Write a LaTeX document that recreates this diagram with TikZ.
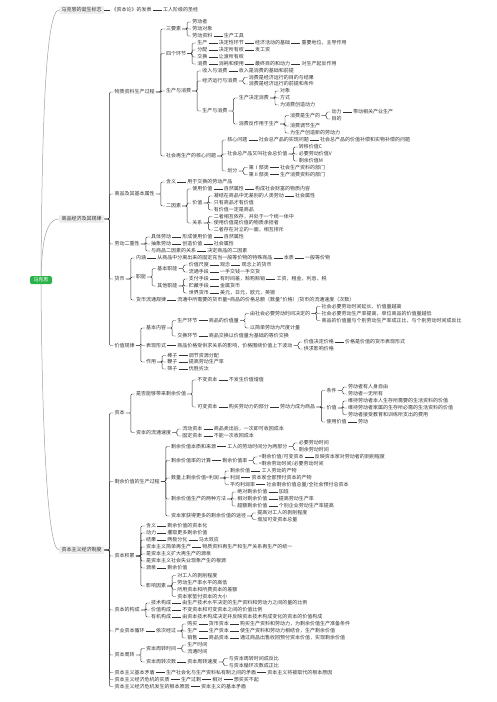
\documentclass[tikz,border=0pt]{standalone}
\usepackage{fontspec}
\newfontfamily\cjk{Noto Sans CJK SC}
\usetikzlibrary{calc,positioning}
\definecolor{lc}{HTML}{333333}
\definecolor{tc}{HTML}{333333}
\definecolor{cvc}{HTML}{A0A0A0}
\definecolor{rootg}{HTML}{2CB34A}
\definecolor{l1g}{HTML}{EEEEEE}
% bracket child: name, parent, y, text
\newcommand\nr[4]{\node[tx] (#1) at ($(#2.east |- 0,-#3)+(9,0)$) {#4};
  \draw[ln] (#2.east) -- ($(#2.east -| #1.west)+(-4,0)$) |- (#1.west);}
% chain child: name, previous, text
\newcommand\nx[3]{\node[tx,right=9pt of #2] (#1) {#3};
  \draw[ln] (#2.east) -- (#1.west);}
\begin{document}
\begin{tikzpicture}[x=1pt,y=1pt,
  tx/.style={anchor=west,inner xsep=1pt,inner ysep=0.5pt,font=\cjk\fontsize{5}{5.4}\selectfont,text=tc},
  l1/.style={tx,fill=l1g,rounded corners=1pt,inner xsep=2.5pt,inner ysep=1.6pt},
  rootn/.style={fill=rootg,text=white,rounded corners=1.5pt,minimum width=22pt,minimum height=8pt,inner sep=0.5pt,font=\cjk\fontsize{5}{5.5}\selectfont},
  ln/.style={draw=lc,line width=0.45pt,rounded corners=1.2pt},
  cv/.style={draw=cvc,line width=0.5pt}]
\useasboundingbox (0,0) rectangle (496,-702);

\node[rootn] (root) at (41,-280) {马克思};
\node[l1] (A) at (59,-10) {马克思的诞生标志};
\node[l1] (B) at (59,-219) {商品经济及其规律};
\node[l1] (C) at (59,-550) {资本主义经济制度};
\draw[cv] (root.north) .. controls (42,-120) and (46,-10) .. (A.west);
\draw[cv] (root.north) .. controls (42,-250) and (44,-219) .. (B.west);
\draw[cv] (root.south) .. controls (42,-420) and (47,-550) .. (C.west);

\node[tx,right=6pt of A] (A1) {《资本论》的发表};
\draw[ln] (A.east) -- (A1.west);
\nx{A2}{A1}{工人阶级的圣经}

% ---------- B ----------
\nr{B1}{B}{92}{物质资料生产过程}
\nr{B2}{B}{194}{商品及其基本属性}
\nr{B3}{B}{244}{劳动二重性}
\nr{B4}{B}{279}{货币}
\nr{B5}{B}{345.5}{价值规律}

\nr{B1a}{B1}{29}{三要素}
\nr{B1b}{B1}{53.5}{四个环节}
\nr{B1c}{B1}{91}{生产与消费}
\nr{B1d}{B1}{156}{社会再生产的核心问题}

\nr{B1a1}{B1a}{22}{劳动者}
\nr{B1a2}{B1a}{29}{劳动对象}
\nr{B1a3}{B1a}{36}{劳动资料}
\nx{B1a3a}{B1a3}{生产工具}

\nr{B1b1}{B1b}{43}{生产}
\nx{B1b1a}{B1b1}{决定性环节}
\nx{B1b1b}{B1b1a}{经济活动的基础}
\nx{B1b1c}{B1b1b}{重要地位，主导作用}
\nr{B1b2}{B1b}{50}{分配}
\nx{B1b2a}{B1b2}{决定所有权}
\nx{B1b2b}{B1b2a}{发工资}
\nr{B1b3}{B1b}{57}{交换}
\nx{B1b3a}{B1b3}{让渡所有权}
\nr{B1b4}{B1b}{64}{消费}
\nx{B1b4a}{B1b4}{消耗和使用}
\nx{B1b4b}{B1b4a}{最终目的和动力}
\nx{B1b4c}{B1b4b}{对生产起反作用}

\nr{B1c1}{B1c}{71}{收入与消费}
\nx{B1c1a}{B1c1}{收入是消费的基础和前提}
\nr{B1c2}{B1c}{81}{经济运行与消费}
\nr{B1c2a}{B1c2}{77.5}{消费是经济运行的目的与结果}
\nr{B1c2b}{B1c2}{84}{消费是经济运行的前提和条件}
\nr{B1c3}{B1c}{111}{生产与消费}
\nr{B1c3a}{B1c3}{98}{生产决定消费}
\nr{B1c3a1}{B1c3a}{91}{对象}
\nr{B1c3a2}{B1c3a}{98}{方式}
\nr{B1c3a3}{B1c3a}{105}{为消费创造动力}
\nr{B1c3b}{B1c3}{124}{消费反作用于生产}
\nr{B1c3b1}{B1c3b}{115.5}{消费是生产的}
\nr{B1c3b1a}{B1c3b1}{112}{动力}
\nx{B1c3b1ax}{B1c3b1a}{带动相关产业生产}
\nr{B1c3b1b}{B1c3b1}{119}{目的}
\nr{B1c3b2}{B1c3b}{126}{消费调节生产}
\nr{B1c3b3}{B1c3b}{133}{为生产创造新的劳动力}

\nr{B1d1}{B1d}{140}{核心问题}
\nx{B1d1a}{B1d1}{社会总产品的实现问题}
\nx{B1d1b}{B1d1a}{社会总产品的价值补偿和实物补偿的问题}
\nr{B1d2}{B1d}{154}{社会总产品又叫社会总价值}
\nr{B1d2a}{B1d2}{147}{转移价值C}
\nr{B1d2b}{B1d2}{154}{必要劳动价值V}
\nr{B1d2c}{B1d2}{161}{剩余价值M}
\nr{B1d3}{B1d}{171}{划分}
\nr{B1d3a}{B1d3}{167.5}{第Ⅰ部类}
\nx{B1d3ax}{B1d3a}{社会生产资料的部门}
\nr{B1d3b}{B1d3}{174.5}{第Ⅱ部类}
\nx{B1d3bx}{B1d3b}{生产消费资料的部门}

\nr{B2a}{B2}{182}{含义}
\nx{B2ax}{B2a}{用于交换的劳动产品}
\nr{B2b}{B2}{206}{二因素}
\nr{B2b1}{B2b}{189}{使用价值}
\nx{B2b1x}{B2b1}{自然属性}
\nx{B2b1y}{B2b1x}{构成社会财富的物质内容}
\nr{B2b2}{B2b}{203}{价值}
\nr{B2b2a}{B2b2}{196}{凝结在商品中无差别的人类劳动}
\nx{B2b2ax}{B2b2a}{社会属性}
\nr{B2b2b}{B2b2}{203}{只有商品才有价值}
\nr{B2b2c}{B2b2}{210}{有价值一定是商品}
\nr{B2b3}{B2b}{223}{关系}
\nr{B2b3a}{B2b3}{216.5}{二者相互依存，并处于一个统一体中}
\nr{B2b3b}{B2b3}{223}{使用价值是价值的物质承担者}
\nr{B2b3c}{B2b3}{230}{二者存在对立的一面，相互排斥}

\nr{B3a}{B3}{237}{具体劳动}
\nx{B3ax}{B3a}{形成使用价值}
\nx{B3ay}{B3ax}{自然属性}
\nr{B3b}{B3}{244}{抽象劳动}
\nx{B3bx}{B3b}{创造价值}
\nx{B3by}{B3bx}{社会属性}
\nr{B3c}{B3}{251}{与商品二因素的关系}
\nx{B3cx}{B3c}{决定商品的二因素}

\nr{B4a}{B4}{258}{内涵}
\nx{B4ax}{B4a}{从商品中分离出来的固定充当一般等价物的特殊商品}
\nx{B4ay}{B4ax}{本质}
\nx{B4az}{B4ay}{一般等价物}
\nr{B4b}{B4}{277}{职能}
\nr{B4b1}{B4b}{268.5}{基本职能}
\nr{B4b1a}{B4b1}{265}{价值尺度}
\nx{B4b1ax}{B4b1a}{观念}
\nx{B4b1ay}{B4b1ax}{观念上的货币}
\nr{B4b1b}{B4b1}{272}{流通手段}
\nx{B4b1bx}{B4b1b}{一手交钱一手交货}
\nr{B4b2}{B4b}{286}{其他职能}
\nr{B4b2a}{B4b2}{279}{支付手段}
\nx{B4b2ax}{B4b2a}{有时间差，赊购赊销}
\nx{B4b2ay}{B4b2ax}{工资，租金，利息，税}
\nr{B4b2b}{B4b2}{286}{贮藏手段}
\nx{B4b2bx}{B4b2b}{金属货币}
\nr{B4b2c}{B4b2}{293}{世界货币}
\nx{B4b2cx}{B4b2c}{美元，日元，欧元，英镑}
\nr{B4c}{B4}{300}{货币流通规律}
\nx{B4cx}{B4c}{流通中所需要的货币量=商品的价格总额（数量*价格）/货币的流通速度（次数）}

\nr{B5a}{B5}{328}{基本内容}
\nr{B5a1}{B5a}{320.5}{生产环节}
\nx{B5a1x}{B5a1}{商品的价值量}
\nr{B5a1x1}{B5a1x}{313.5}{由社会必要劳动时间决定的}
\nr{B5a1x1a}{B5a1x1}{306.5}{社会必要劳动时间延长，价值量越高}
\nr{B5a1x1b}{B5a1x1}{313.5}{社会必要劳动生产率提高，单位商品的价值量越低}
\nr{B5a1x1c}{B5a1x1}{320.5}{商品的价值量与个别劳动生产率成正比，与个别劳动时间成反比}
\nr{B5a1x2}{B5a1x}{328}{以简单劳动为尺度计量}
\nr{B5a2}{B5a}{336}{交换环节}
\nx{B5a2x}{B5a2}{商品交换以价值量为基础的等价交换}
\nr{B5b}{B5}{345.5}{表现形式}
\nx{B5bx}{B5b}{商品价格受供求关系的影响，价格围绕价值上下波动}
\nr{B5bx1}{B5bx}{342}{价值决定价格}
\nx{B5bx1x}{B5bx1}{价格是价值的货币表现形式}
\nr{B5bx2}{B5bx}{349}{供求影响价格}
\nr{B5c}{B5}{362}{作用}
\nr{B5c1}{B5c}{355.5}{棒子}
\nx{B5c1x}{B5c1}{调节资源分配}
\nr{B5c2}{B5c}{362}{鞭子}
\nx{B5c2x}{B5c2}{提高劳动生产率}
\nr{B5c3}{B5c}{369}{筛子}
\nx{B5c3x}{B5c3}{优胜劣汰}

% ---------- C ----------
\nr{C1}{C}{413}{资本}
\nr{C2}{C}{481.5}{剩余价值的生产过程}
\nr{C3}{C}{556}{资本积累}
\nr{C4}{C}{610}{资本的构成}
\nr{C5}{C}{631}{产业资本循环}
\nr{C6}{C}{655}{资本周转}
\nr{C7}{C}{672.5}{资本主义基本矛盾}
\nr{C8}{C}{679.5}{资本主义经济危机的实质}
\nr{C9}{C}{686.5}{资本主义经济危机发生的根本原因}

\nr{C1a}{C1}{394}{是否能够带来剩余价值}
\nr{C1a1}{C1a}{380}{不变资本}
\nx{C1a1x}{C1a1}{不发生价值增值}
\nr{C1a2}{C1a}{407}{可变资本}
\nx{C1a2x}{C1a2}{购买劳动力的部分}
\nx{C1a2y}{C1a2x}{劳动力成为商品}
\nr{C1a2y1}{C1a2y}{390.5}{条件}
\nr{C1a2y1a}{C1a2y1}{387}{劳动者有人身自由}
\nr{C1a2y1b}{C1a2y1}{394}{劳动者一无所有}
\nr{C1a2y2}{C1a2y}{408}{价值}
\nr{C1a2y2a}{C1a2y2}{401}{维持劳动者本人生存所需要的生活资料的价值}
\nr{C1a2y2b}{C1a2y2}{408}{维持劳动者家属的生存所必需的生活资料的价值}
\nr{C1a2y2c}{C1a2y2}{414.5}{劳动者接受教育和训练所支出的费用}
\nr{C1a2y3}{C1a2y}{422}{使用价值}
\nx{C1a2y3x}{C1a2y3}{劳动}
\nr{C1b}{C1}{432.5}{资本的流通速度}
\nr{C1b1}{C1b}{429}{流动资本}
\nx{C1b1x}{C1b1}{商品卖出后，一次即可收回成本}
\nr{C1b2}{C1b}{436}{固定资本}
\nx{C1b2x}{C1b2}{不能一次收回成本}

\nr{C2a}{C2}{446.5}{剩余价值本质和来源}
\nx{C2ax}{C2a}{工人的劳动时间分为两部分}
\nr{C2ax1}{C2ax}{443}{必要劳动时间}
\nr{C2ax2}{C2ax}{450}{剩余劳动时间}
\nr{C2b}{C2}{460.5}{剩余价值率的计算}
\nx{C2bx}{C2b}{剩余价值率}
\nr{C2bx1}{C2bx}{457}{=剩余价值/可变资本}
\nx{C2bx1x}{C2bx1}{反映资本家对劳动者的剥削程度}
\nr{C2bx2}{C2bx}{464}{=剩余劳动时间/必要劳动时间}
\nr{C2c}{C2}{478}{数量上剩余价值=利润}
\nr{C2c1}{C2c}{471}{剩余价值}
\nx{C2c1x}{C2c1}{工人劳动的产物}
\nr{C2c2}{C2c}{477.5}{利润}
\nx{C2c2x}{C2c2}{资本家全部预付资本的产物}
\nr{C2c3}{C2c}{484.5}{平均利润率}
\nx{C2c3x}{C2c3}{社会剩余价值总量/全社会预付总资本}
\nr{C2d}{C2}{499}{剩余价值生产的两种方法}
\nr{C2d1}{C2d}{492}{绝对剩余价值}
\nx{C2d1x}{C2d1}{加班}
\nr{C2d2}{C2d}{499}{相对剩余价值}
\nx{C2d2x}{C2d2}{提高劳动生产率}
\nr{C2d3}{C2d}{506}{超额剩余价值}
\nx{C2d3x}{C2d3}{个别企业劳动生产率提高}
\nr{C2e}{C2}{516}{资本家获得更多的剩余价值的途径}
\nr{C2e1}{C2e}{513}{提高对工人的剥削程度}
\nr{C2e2}{C2e}{519.5}{增加可变资本总量}

\nr{C3a}{C3}{526}{含义}
\nx{C3ax}{C3a}{剩余价值的资本化}
\nr{C3b}{C3}{533}{动力}
\nx{C3bx}{C3b}{攫取更多剩余价值}
\nr{C3c}{C3}{540}{结果}
\nx{C3cx}{C3c}{两极分化}
\nx{C3cy}{C3cx}{马太效应}
\nr{C3d}{C3}{547}{资本主义简单再生产}
\nx{C3dx}{C3d}{物质资料再生产和生产关系再生产的统一}
\nr{C3e}{C3}{554}{是资本主义扩大再生产的源泉}
\nr{C3f}{C3}{561}{是资本主义社会失业现象产生的根源}
\nr{C3g}{C3}{568}{源泉}
\nx{C3gx}{C3g}{剩余价值}
\nr{C3h}{C3}{586}{影响因素}
\nr{C3h1}{C3h}{575.5}{对工人的剥削程度}
\nr{C3h2}{C3h}{582.5}{劳动生产率水平的高低}
\nr{C3h3}{C3h}{589.5}{所用资本和所费资本的差额}
\nr{C3h4}{C3h}{596.5}{资本家垫付资本的大小}

\nr{C4a}{C4}{603}{技术构成}
\nx{C4ax}{C4a}{由生产技术水平决定的生产资料和劳动力之间的量的比例}
\nr{C4b}{C4}{610}{价值构成}
\nx{C4bx}{C4b}{不变资本和可变资本之间的价值比例}
\nr{C4c}{C4}{617}{有机构成}
\nx{C4cx}{C4c}{由资本技术构成决定并反映资本技术构成变化的资本的价值构成}

\nx{C5x}{C5}{依次经过}
\nr{C5a}{C5x}{624}{购买}
\nx{C5ax}{C5a}{货币资本}
\nx{C5ay}{C5ax}{购买生产资料和劳动力，为剩余价值生产准备条件}
\nr{C5b}{C5x}{631}{生产}
\nx{C5bx}{C5b}{生产资本}
\nx{C5by}{C5bx}{使生产资料和劳动力相结合，生产剩余价值}
\nr{C5c}{C5x}{638}{销售}
\nx{C5cx}{C5c}{商品资本}
\nx{C5cy}{C5cx}{通过商品出售收回预付资本价值，实现剩余价值}

\nr{C6a}{C6}{648.5}{资本周转时间}
\nr{C6a1}{C6a}{645}{生产时间}
\nr{C6a2}{C6a}{652}{流通时间}
\nr{C6b}{C6}{662}{资本周转次数}
\nx{C6bx}{C6b}{资本周转速度}
\nr{C6bx1}{C6bx}{658.5}{与资本周转时间成反比}
\nr{C6bx2}{C6bx}{665.5}{与资本循环次数成正比}

\nx{C7x}{C7}{生产社会化与生产资料私有制之间的矛盾}
\nx{C7y}{C7x}{资本主义将被取代的根本原因}
\nx{C8x}{C8}{生产过剩}
\nx{C8y}{C8x}{相对}
\nx{C8z}{C8y}{想买买不起}
\nx{C9x}{C9}{资本主义的基本矛盾}
\end{tikzpicture}
\end{document}
